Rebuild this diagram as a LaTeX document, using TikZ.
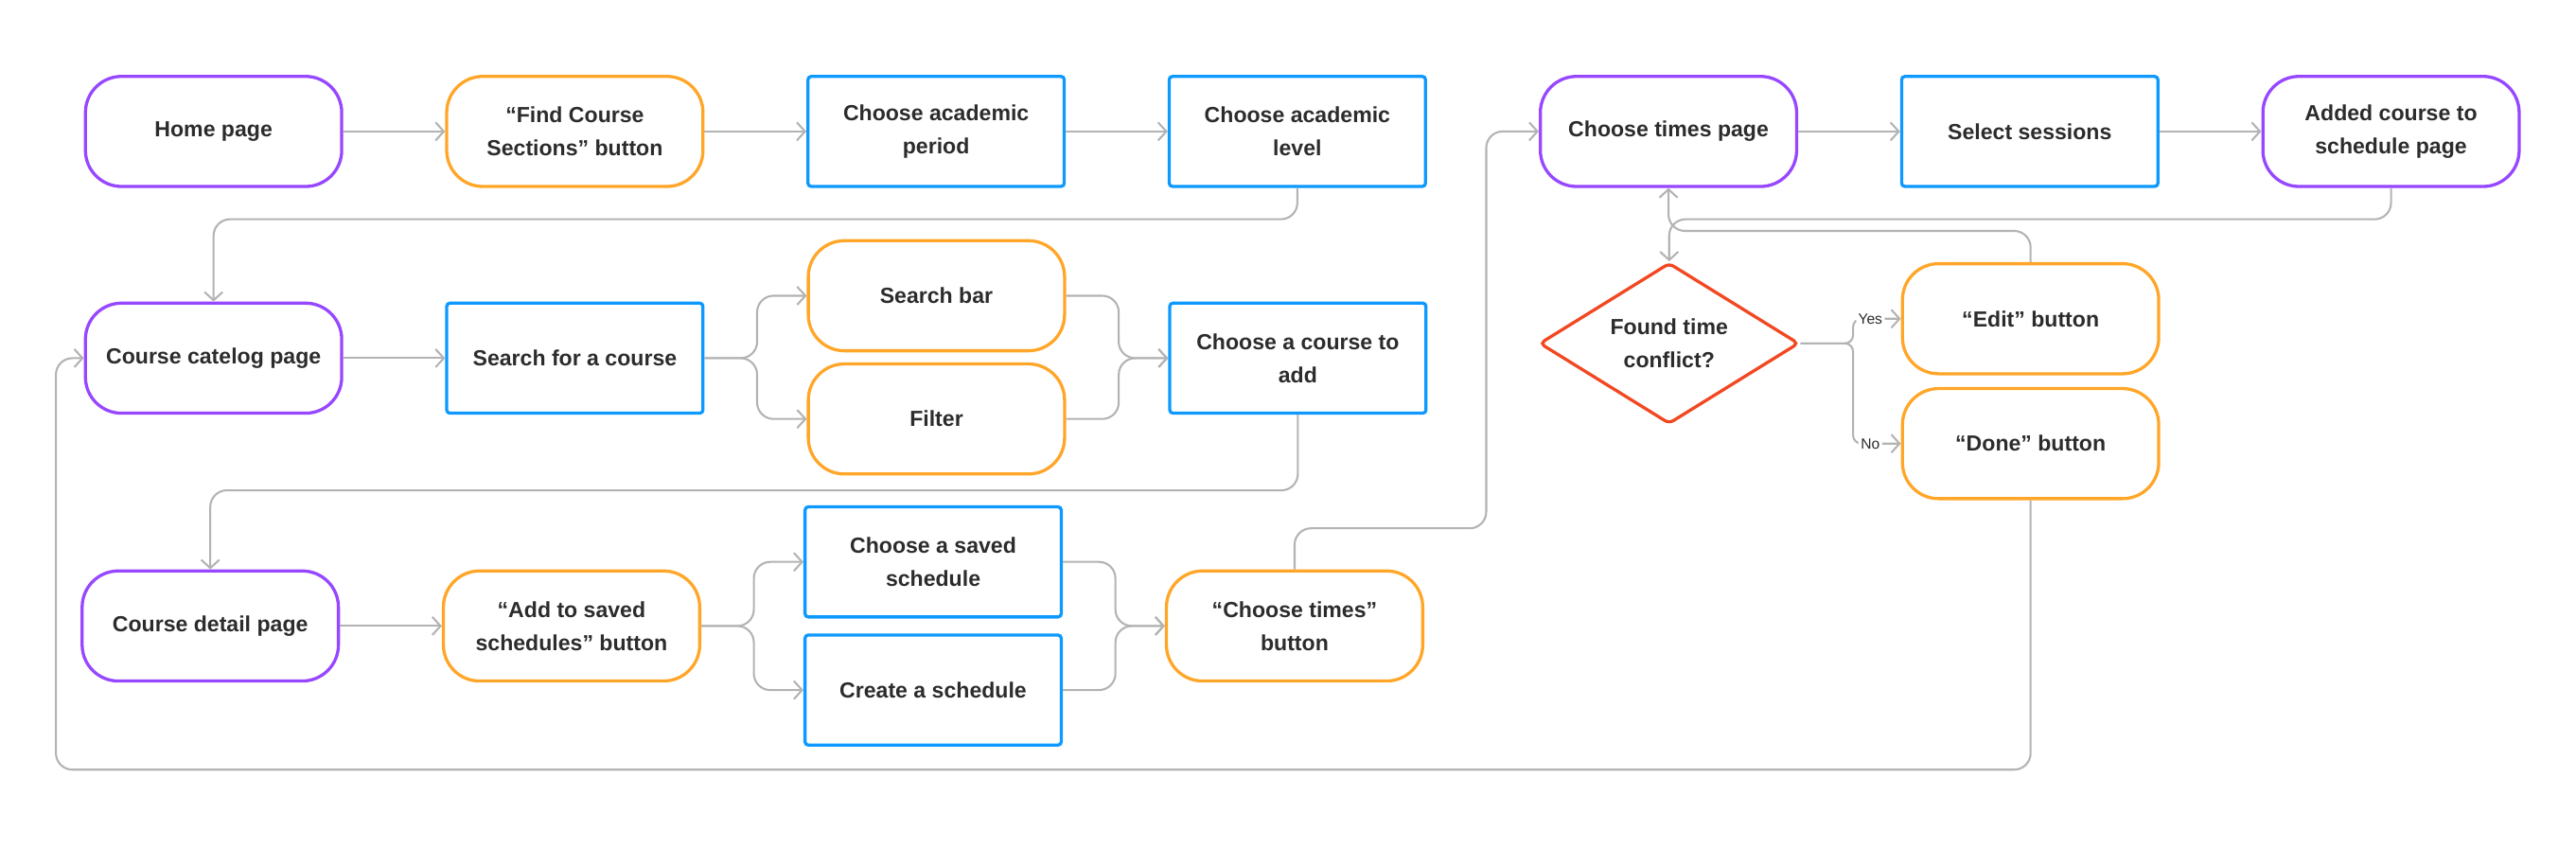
\documentclass[tikz,border=0pt]{standalone}
\usepackage{fontspec}
\setmainfont{Liberation Sans}
\usetikzlibrary{positioning}
\usetikzlibrary{shapes.geometric}
\usetikzlibrary{arrows.meta}
\definecolor{pagec}{HTML}{9747FF}
\definecolor{btnc}{HTML}{FFA629}
\definecolor{actc}{HTML}{0D99FF}
\definecolor{checkc}{HTML}{F24822}
\definecolor{linkc}{HTML}{B3B3B3}
\definecolor{textc}{HTML}{2C2C2C}
\tikzset{
  >={Straight Barb[length=5pt,width=11pt]},
  box/.style={draw,line width=1.9pt,fill=white,text=textc,align=center,
    minimum width=156pt,minimum height=67pt,inner sep=2pt,
    font=\bfseries\fontsize{13.3}{20}\selectfont},
  page/.style={box,draw=pagec,rounded corners=22pt},
  btn/.style={box,draw=btnc,rounded corners=22pt},
  act/.style={box,draw=actc,rounded corners=2pt},
  check/.style={box,diamond,draw=checkc,aspect=1.6,minimum width=158pt,
    minimum height=98pt,inner sep=0pt,rounded corners=3pt},
  link/.style={draw=linkc,line width=1.2pt,rounded corners=10pt,->},
  answer/.style={fill=white,inner sep=1.5pt,text=textc,
    font=\fontsize{9}{11}\selectfont}
}

\begin{document}
\begin{tikzpicture}[x=1pt,y=-1pt,node distance=62pt]
  \useasboundingbox (0,0) rectangle (1568,516);
  % first row
  \node (home) [page] at (130,80) {Home page};
  \node (find) [btn,right=of home] {“Find Course\\Sections” button};
  \node (period) [act,right=of find] {Choose academic\\period};
  \node (level) [act,right=of period] {Choose academic\\level};
  \node (times) [page,right=68pt of level] {Choose times page};
  \node (sessions) [act,right=of times] {Select sessions};
  \node (added) [page,right=of sessions] {Added course to\\schedule page};
  % second row
  \node (catalog) [page] at (130,218) {Course catelog page};
  \node (search) [act,right=of catalog] {Search for a course};
  \node (bar) [btn] at (570,180) {Search bar};
  \node (filter) [btn] at (570,255) {Filter};
  \node (pick) [act] at (790,218) {Choose a course to\\add};
  % third row
  \node (detail) [page] at (128,381) {Course detail page};
  \node (save) [btn,right=of detail] {“Add to saved\\schedules” button};
  \node (saved) [act] at (568,342) {Choose a saved\\schedule};
  \node (create) [act] at (568,420) {Create a schedule};
  \node (timesbtn) [btn] at (788,381) {“Choose times”\\button};
  % conflict check
  \node (conflict) [check] at (1016,209) {Found time\\conflict?};
  \node (edit) [btn] at (1236,194) {“Edit” button};
  \node (done) [btn] at (1236,270) {“Done” button};

  \foreach \a/\b in {home/find,find/period,period/level,times/sessions,
    sessions/added,catalog/search,detail/save}
    \draw [link] (\a) -- (\b);
  \draw [link] (level.south) -- ++(0,19) -| (catalog.north);
  \draw [link] (pick.south) -- ++(0,46) -| (detail.north);
  \foreach \b in {bar,filter} {
    \draw [link] (search.east) -- ++(32,0) |- (\b.west);
    \draw [link] (\b.east) -- ++(32,0) |- (pick.west);
  }
  \foreach \b in {saved,create} {
    \draw [link] (save.east) -- ++(32,0) |- (\b.west);
    \draw [link] (\b.east) -- ++(32,0) |- (timesbtn.west);
  }
  \draw [link] (timesbtn.north) -- ++(0,-25) -| ([xshift=-32pt]times.west)
    -- (times.west);
  \draw [link] (added.south) -- ++(0,19) -| (conflict.north);
  \draw [link] (edit.north) -- ++(0,-19) -| (times.south);
  \draw [link,rounded corners=5pt] (conflict.east) -- ++(32,0)
    |- node [answer,pos=.68] {Yes} (edit.west);
  \draw [link,rounded corners=5pt] (conflict.east) -- ++(32,0)
    |- node [answer,pos=.68] {No} (done.west);
  \draw [link] (done.south) -- ++(0,164) -| ([xshift=-17pt]catalog.west)
    -- (catalog.west);
\end{tikzpicture}
\end{document}
